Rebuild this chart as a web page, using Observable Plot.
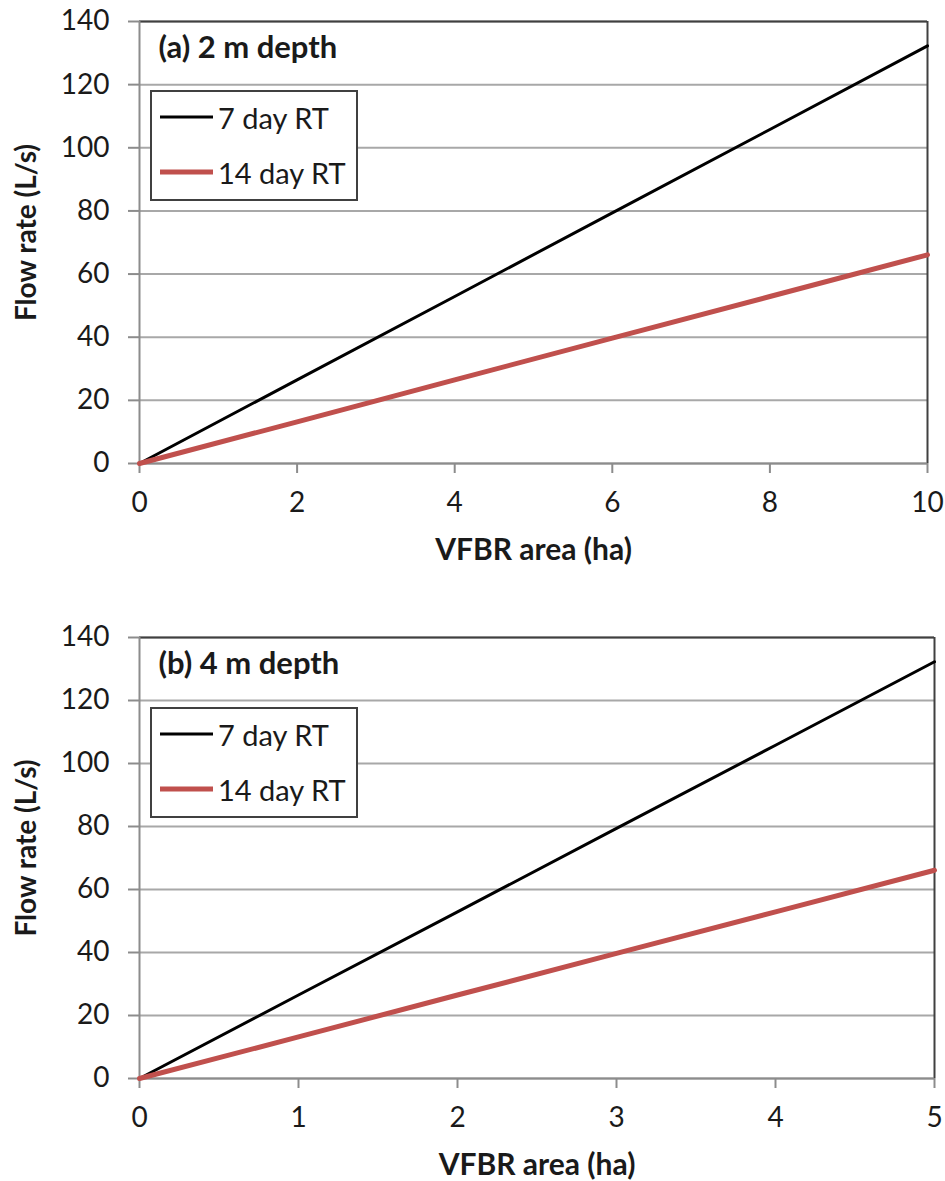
<!DOCTYPE html>
<html><head><meta charset="utf-8">
<script src="https://cdn.jsdelivr.net/npm/d3@7"></script>
<script src="https://cdn.jsdelivr.net/npm/@observablehq/plot@0.6"></script>
<style>
body{margin:0;background:#fff;font-family:Lato,"Open Sans",sans-serif;}
.panel{position:relative;width:945px;}
.legend{position:absolute;left:150px;width:204px;height:107px;border:2px solid #404040;background:#fff;}
.item{position:absolute;left:8px;height:36px;display:flex;align-items:center;font-size:29px;color:#1a1a1a;white-space:nowrap;}
.item svg{margin-right:5px;display:block;}
</style></head><body>
<div id="chart"></div>
<script>
const seriesNames = ["7 day RT", "14 day RT"];
const seriesColors = ["#000000", "#C0504D"];
const seriesWidths = [3, 5];
const panelTitles = ["(a) 2 m depth", "(b) 4 m depth"];
const areaA = [0, 2, 4, 6, 8, 10];
const areaB = [0, 1, 2, 3, 4, 5];
const flow7 = [0, 26.5, 52.9, 79.4, 105.8, 132.3];
const flow14 = [0, 13.2, 26.5, 39.7, 52.9, 66.1];
const yTicks = [0, 20, 40, 60, 80, 100, 120, 140];
const xTicksA = [0, 2, 4, 6, 8, 10];
const xTicksB = [0, 1, 2, 3, 4, 5];
const xLabel = "VFBR area (ha)";
const yLabel = "Flow rate (L/s)";

const gridColor = "#a8a8a8", axisColor = "#8c8c8c", frameColor = "#404040", textColor = "#1a1a1a";

function panel({area, xTicks, title, height, marginTop, marginBottom, marginRight, legendTop}) {
  const xMax = xTicks[xTicks.length - 1];
  const yMax = yTicks[yTicks.length - 1];
  const series = [flow7, flow14].map((fl, s) => area.map((a, i) => ({area: a, flow: fl[i], name: seriesNames[s]})));
  const chart = Plot.plot({
    width: 945, height, marginTop, marginBottom, marginLeft: 139, marginRight,
    style: {fontFamily: "Lato, 'Open Sans', sans-serif", fontSize: "28px", color: textColor, overflow: "visible", background: "#fff"},
    x: {domain: [0, xMax]},
    y: {domain: [0, yMax]},
    marks: [
      Plot.gridY(yTicks, {stroke: gridColor, strokeWidth: 2, strokeOpacity: 1}),
      Plot.ruleY([yMax], {stroke: frameColor, strokeWidth: 2}),
      Plot.ruleX([xMax], {stroke: frameColor, strokeWidth: 2}),
      Plot.ruleX([0], {stroke: axisColor, strokeWidth: 2}),
      Plot.ruleY([0], {stroke: axisColor, strokeWidth: 2}),
      Plot.axisY({ticks: yTicks, tickSize: 11, tickPadding: 19, tickFormat: d => String(d), stroke: axisColor, strokeWidth: 2, strokeOpacity: 1, fill: textColor, label: null}),
      Plot.axisX({ticks: xTicks, tickSize: 10, tickPadding: 19, tickFormat: d => String(d), stroke: axisColor, strokeWidth: 2, strokeOpacity: 1, fill: textColor, label: null}),
      ...series.map((d, s) => Plot.line(d, {x: "area", y: "flow", stroke: seriesColors[s], strokeWidth: seriesWidths[s]})),
      Plot.text([title], {text: d => d, frameAnchor: "top-left", dx: 19, dy: 27, textAnchor: "start", lineAnchor: "middle", fontWeight: "bold", fontSize: 31, fill: textColor}),
      Plot.text([xLabel], {text: d => d, frameAnchor: "bottom", dy: 87, textAnchor: "middle", lineAnchor: "middle", fontWeight: "bold", fontSize: 30, fill: textColor}),
      Plot.text([yLabel], {text: d => d, frameAnchor: "left", dx: -112, dy: -10, rotate: -90, textAnchor: "middle", lineAnchor: "middle", fontWeight: "bold", fontSize: 28, fill: textColor})
    ]
  });
  const div = document.createElement("div");
  div.className = "panel";
  div.style.height = height + "px";
  div.appendChild(chart);
  const leg = document.createElement("div");
  leg.className = "legend";
  leg.style.top = legendTop + "px";
  seriesNames.forEach((n, s) => {
    const it = document.createElement("div");
    it.className = "item";
    it.style.top = (7 + s * 55) + "px";
    it.innerHTML = `<svg width="53" height="10"><line x1="0" x2="53" y1="5" y2="5" stroke="${seriesColors[s]}" stroke-width="${seriesWidths[s]}"/></svg><span>${n}</span>`;
    leg.appendChild(it);
  });
  div.appendChild(leg);
  return div;
}

const root = document.getElementById("chart");
root.appendChild(panel({area: areaA, xTicks: xTicksA, title: panelTitles[0], height: 590, marginTop: 21, marginBottom: 127, marginRight: 18, legendTop: 90}));
root.appendChild(panel({area: areaB, xTicks: xTicksB, title: panelTitles[1], height: 591, marginTop: 47, marginBottom: 103, marginRight: 11, legendTop: 117}));
</script>
</body></html>
